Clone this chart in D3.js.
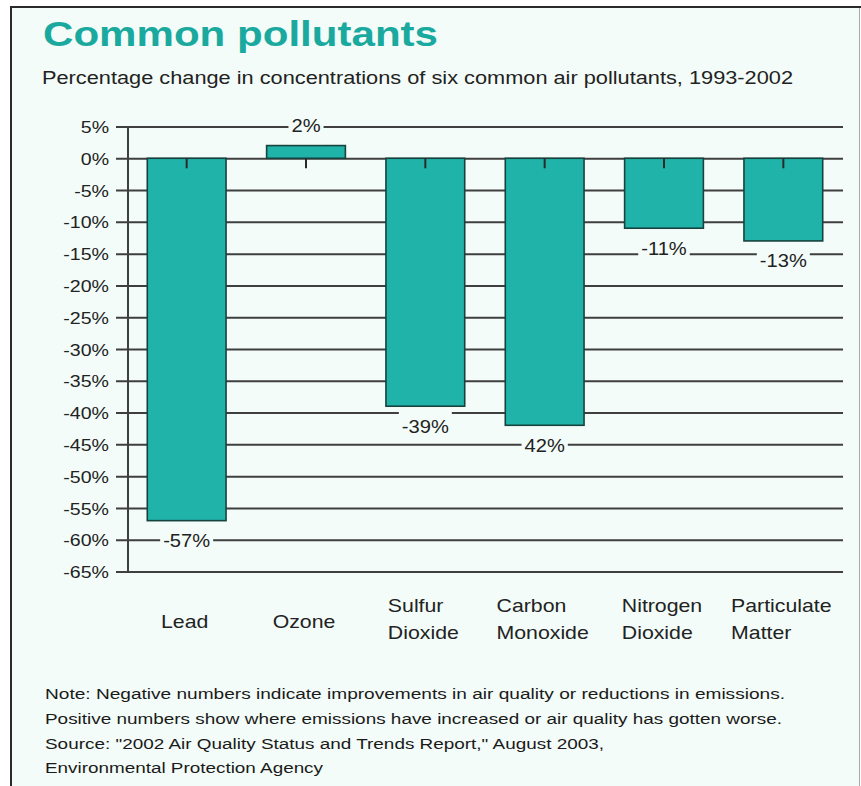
<!DOCTYPE html>
<html>
<head>
<meta charset="utf-8">
<script src="https://cdn.jsdelivr.net/npm/d3@7"></script>
<style>
  html, body { margin: 0; padding: 0; background: #ffffff; }
  svg { display: block; }
  text { font-family: "Liberation Sans", Arial, Helvetica, sans-serif; }
</style>
</head>
<body>
<svg id="chart" width="861" height="786"></svg>
<script>
// ---- data ----
const categories = ["Lead", "Ozone", "Sulfur Dioxide", "Carbon Monoxide", "Nitrogen Dioxide", "Particulate Matter"];
const values = [-57, 2, -39, -42, -11, -13];
const valueLabels = ["-57%", "2%", "-39%", "42%", "-11%", "-13%"];
const yTickValues = [5, 0, -5, -10, -15, -20, -25, -30, -35, -40, -45, -50, -55, -60, -65];
const titleText = "Common pollutants";
const subtitleText = "Percentage change in concentrations of six common air pollutants, 1993-2002";
const noteLines = [
  "Note: Negative numbers indicate improvements in air quality or reductions in emissions.",
  "Positive numbers show where emissions have increased or air quality has gotten worse.",
  "Source: \"2002 Air Quality Status and Trends Report,\" August 2003,",
  "Environmental Protection Agency"
];

// ---- palette ----
const bg = "#f3fcf8";
const teal = "#20b3aa";
const titleTeal = "#1aa99e";
const ink = "#222222";
const gridInk = "#3f3f3f";

const svg = d3.select("#chart");

// Stretch a text element horizontally (the lettering is set wide) and place it by anchor.
function fitText(sel, x, anchor, k, targetWidth) {
  sel.attr("text-anchor", "start").attr("x", 0);
  const w = sel.node().getComputedTextLength();
  const W = targetWidth != null ? targetWidth : w * k;
  sel.attr("textLength", W).attr("lengthAdjust", "spacingAndGlyphs");
  const x0 = anchor === "end" ? x - W : anchor === "middle" ? x - W / 2 : x;
  sel.attr("x", x0);
  return W;
}

// ---- frame ----
svg.append("rect").attr("x", 11).attr("y", 7).attr("width", 848).attr("height", 779).attr("fill", bg);
svg.append("line").attr("x1", 10).attr("x2", 861).attr("y1", 7).attr("y2", 7)
  .attr("stroke", "#2a2a2a").attr("stroke-width", 2);
svg.append("line").attr("x1", 11).attr("x2", 11).attr("y1", 6).attr("y2", 786)
  .attr("stroke", "#2a2a2a").attr("stroke-width", 2);
svg.append("line").attr("x1", 859.5).attr("x2", 859.5).attr("y1", 8).attr("y2", 786)
  .attr("stroke", "#a9a9a9").attr("stroke-width", 1);

// ---- titles ----
const title = svg.append("text").attr("y", 46)
  .style("font-size", "35px").style("font-weight", "bold").attr("fill", titleTeal)
  .text(titleText);
fitText(title, 43, "start", 1, 395);

const subtitle = svg.append("text").attr("y", 84)
  .style("font-size", "17.5px").attr("fill", ink)
  .text(subtitleText);
fitText(subtitle, 42, "start", 1, 751);

// ---- scales ----
const x = d3.scaleBand().domain(categories).range([127, 843]).padding(0);
const y = d3.scaleLinear().domain([5, -65]).range([126.5, 571.5]);
const barW = x.bandwidth() * 0.66;
const gridLeft = 116, gridRight = 843, axisX = 128;

// ---- y axis with gridlines ----
const yAxis = d3.axisLeft(y)
  .tickValues(yTickValues)
  .tickFormat(d => d + "%")
  .tickSizeInner(-(gridRight - gridLeft))
  .tickSizeOuter(0)
  .tickPadding(7);

const gy = svg.append("g").attr("transform", `translate(${gridLeft},0)`).call(yAxis);
gy.select(".domain").remove();
gy.selectAll(".tick line").attr("stroke", gridInk).attr("stroke-width", 2);
gy.selectAll(".tick text")
  .attr("fill", ink).style("font-size", "17px").attr("dy", "0.36em")
  .each(function () { fitText(d3.select(this), -7, "end", 1.15); });

// ---- bars ----
svg.append("g").selectAll("rect")
  .data(values)
  .join("rect")
  .attr("x", (d, i) => x(categories[i]) + (x.bandwidth() - barW) / 2)
  .attr("y", d => y(Math.max(0, d)))
  .attr("width", barW)
  .attr("height", d => Math.abs(y(d) - y(0)))
  .attr("fill", teal)
  .attr("stroke", "#17433e")
  .attr("stroke-width", 1.6);

// vertical axis line
svg.append("line")
  .attr("x1", axisX).attr("x2", axisX)
  .attr("y1", y(5)).attr("y2", y(-65))
  .attr("stroke", gridInk).attr("stroke-width", 2);

// ---- category ticks hanging from the zero line ----
const xAxis = d3.axisBottom(x).tickSize(10).tickFormat("");
const gx = svg.append("g").attr("transform", `translate(0,${y(0)})`).call(xAxis);
gx.select(".domain").remove();
gx.selectAll(".tick line").attr("stroke", "#2a2a2a").attr("stroke-width", 2);

// ---- value labels ----
const lblG = svg.append("g");
values.forEach((v, i) => {
  const cx = x(categories[i]) + x.bandwidth() / 2;
  const end = y(v);
  const cy = v >= 0 ? end - 20 : end + 20;
  const knock = lblG.append("rect").attr("fill", bg);
  const t = lblG.append("text")
    .attr("y", cy).attr("dy", "0.36em")
    .style("font-size", "17.5px").attr("fill", ink)
    .text(valueLabels[i]);
  const W = fitText(t, cx, "middle", 1.15);
  const top = v >= 0 ? cy - 10 : end + 1.5;
  const bot = v >= 0 ? end - 1.5 : cy + 10;
  knock.attr("x", cx - W / 2 - 3).attr("width", W + 6)
    .attr("y", top).attr("height", bot - top);
});

// ---- category labels (left-aligned block centred under each bar) ----
const catG = svg.append("g");
categories.forEach(c => {
  const lines = c.split(" ");
  const g = catG.append("g");
  const baselines = lines.length === 1 ? [628] : [611.5, 638.5];
  let maxW = 0;
  const texts = lines.map((ln, j) => {
    const t = g.append("text").attr("y", baselines[j])
      .style("font-size", "18.5px").attr("fill", ink).text(ln);
    const W = fitText(t, 0, "start", 1.15);
    maxW = Math.max(maxW, W);
    return t;
  });
  const cx = x(c) + x.bandwidth() / 2 - 2;
  g.attr("transform", `translate(${cx - maxW / 2},0)`);
});

// ---- notes ----
const noteWidths = [740, 737, 559, 278];
const noteBaselines = [699, 724, 748.5, 772.5];
noteLines.forEach((ln, i) => {
  const t = svg.append("text").attr("y", noteBaselines[i])
    .style("font-size", "15.5px").attr("fill", "#1a1a1a").text(ln);
  fitText(t, 45, "start", 1, noteWidths[i]);
});
</script>
</body>
</html>
